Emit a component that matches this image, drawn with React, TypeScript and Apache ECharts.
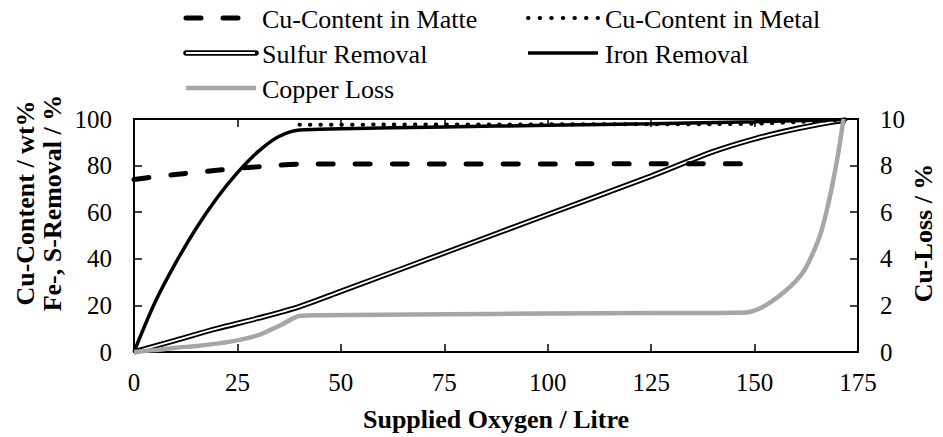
import React, { useEffect, useRef } from "react";
import * as echarts from "echarts";

const FONT = "'Liberation Serif', 'Times New Roman', Times, serif";

const xTicks = [0, 25, 50, 75, 100, 125, 150, 175];
const leftTicks = [0, 20, 40, 60, 80, 100];
const rightTicks = [0, 2, 4, 6, 8, 10];

const seriesNames = [
  "Cu-Content in Matte",
  "Cu-Content in Metal",
  "Sulfur Removal",
  "Iron Removal",
  "Copper Loss",
];

// [supplied oxygen, value]
const cuMatte = [
  [0, 74], [5, 75.2], [10, 76.2], [15, 77.1], [20, 78], [25, 78.8], [30, 79.5],
  [35, 80.2], [40, 80.6], [75, 80.7], [110, 80.75], [148, 80.8],
];
const cuMetal = [
  [40, 97.5], [60, 97.6], [100, 97.7], [140, 97.8], [150, 98], [160, 98.7],
  [170, 99.6], [172, 99.8],
];
const sulfurRemoval = [
  [0, 0], [10, 5], [20, 10], [30, 14.5], [40, 19.5], [50, 26], [75, 42.5],
  [100, 59], [125, 75.5], [140, 86], [150, 91.5], [160, 95.8], [168, 98.5], [172, 99.5],
];
const ironRemoval = [
  [0, 0], [5, 21], [10, 38], [15, 53], [20, 66], [25, 77], [30, 86], [35, 92.5],
  [40, 95.3], [50, 95.8], [75, 96.6], [100, 97.3], [125, 98], [150, 98.8], [172, 99.8],
];
const copperLoss = [
  [0, 0], [5, 0.08], [10, 0.18], [15, 0.26], [20, 0.36], [25, 0.5], [30, 0.72],
  [33, 0.95], [36, 1.2], [38, 1.4], [40, 1.55], [45, 1.58], [75, 1.62], [100, 1.65],
  [125, 1.67], [148, 1.7], [151, 1.85], [154, 2.15], [157, 2.55], [160, 3.05],
  [162, 3.5], [164, 4.2], [166, 5.1], [168, 6.5], [170, 8.3], [171.5, 10],
];

const xTitle = "Supplied Oxygen / Litre";
const leftTitle1 = "Cu-Content / wt%";
const leftTitle2 = "Fe-, S-Removal / %";
const rightTitle = "Cu-Loss / %";

export default function App() {
  const ref = useRef<HTMLDivElement>(null);
  useEffect(() => {
    document.body.style.margin = "0";
    const chart = echarts.init(ref.current!, undefined, { renderer: "svg" });
    const axisLine = { show: true, onZero: false, lineStyle: { color: "#000", width: 2 } };
    const axisTick = { show: true, inside: true, length: 8, lineStyle: { color: "#000", width: 1.5 } };
    const label = { fontSize: 25, color: "#000", fontFamily: FONT };
    const legendText = (text: string, x: number, y: number) => ({
      type: "text",
      x,
      y,
      style: { text, fill: "#000", fontSize: 26, fontFamily: FONT, textAlign: "left", textVerticalAlign: "middle" },
    });
    const option: any = {
      animation: false,
      textStyle: { fontFamily: FONT },
      grid: { left: 134, right: 85, top: 119, bottom: 85, containLabel: false },
      xAxis: [
        {
          type: "value", min: xTicks[0], max: xTicks[xTicks.length - 1], interval: 25,
          position: "bottom", axisLine, axisTick, axisLabel: { ...label, margin: 18 },
          splitLine: { show: false },
        },
        {
          type: "value", min: xTicks[0], max: xTicks[xTicks.length - 1], interval: 25,
          position: "top", axisLine, axisTick, axisLabel: { show: false },
          splitLine: { show: false },
        },
      ],
      yAxis: [
        {
          type: "value", min: leftTicks[0], max: leftTicks[leftTicks.length - 1], interval: 20,
          position: "left", axisLine, axisTick, axisLabel: { ...label, margin: 22 },
          splitLine: { show: false },
        },
        {
          type: "value", min: rightTicks[0], max: rightTicks[rightTicks.length - 1], interval: 2,
          position: "right", axisLine, axisTick, axisLabel: { ...label, margin: 22 },
          splitLine: { show: false },
        },
      ],
      series: [
        {
          name: seriesNames[2], type: "line", data: sulfurRemoval, symbol: "none", smooth: 0.3,
          lineStyle: { color: "#000", width: 5.5 }, z: 2,
        },
        {
          name: seriesNames[2] + " inner", type: "line", data: sulfurRemoval, symbol: "none", smooth: 0.3,
          lineStyle: { color: "#fff", width: 1.8 }, z: 3,
        },
        {
          name: seriesNames[0], type: "line", data: cuMatte, symbol: "none", smooth: 0.3,
          lineStyle: { color: "#000", width: 5, type: [15, 22], cap: "round" }, z: 4,
        },
        {
          name: seriesNames[1], type: "line", data: cuMetal, symbol: "none", smooth: 0.3,
          lineStyle: { color: "#000", width: 4, type: [0.5, 10], cap: "round" }, z: 4,
        },
        {
          name: seriesNames[3], type: "line", data: ironRemoval, symbol: "none", smooth: 0.3,
          lineStyle: { color: "#000", width: 3.5 }, z: 5,
        },
        {
          name: seriesNames[4], type: "line", data: copperLoss, yAxisIndex: 1, symbol: "none",
          smooth: 0.3, lineStyle: { color: "#a6a6a6", width: 4.5 }, z: 6,
        },
      ],
      graphic: [
        // legend icons
        { type: "line", shape: { x1: 186, y1: 18, x2: 256, y2: 18 }, style: { stroke: "#000", lineWidth: 5, lineDash: [15, 22], lineCap: "round" } },
        { type: "line", shape: { x1: 528, y1: 18, x2: 598, y2: 18 }, style: { stroke: "#000", lineWidth: 4, lineDash: [0.5, 11.1], lineCap: "round" } },
        { type: "line", shape: { x1: 186, y1: 53, x2: 256, y2: 53 }, style: { stroke: "#000", lineWidth: 5.5, lineCap: "round" } },
        { type: "line", shape: { x1: 186, y1: 53, x2: 255, y2: 53 }, style: { stroke: "#fff", lineWidth: 1.8 } },
        { type: "line", shape: { x1: 528, y1: 53, x2: 598, y2: 53 }, style: { stroke: "#000", lineWidth: 3.5 } },
        { type: "line", shape: { x1: 186, y1: 88, x2: 256, y2: 88 }, style: { stroke: "#a6a6a6", lineWidth: 4.5 } },
        legendText(seriesNames[0], 262, 19),
        legendText(seriesNames[1], 605, 19),
        legendText(seriesNames[2], 262, 54),
        legendText(seriesNames[3], 605, 54),
        legendText(seriesNames[4], 262, 89),
        // axis titles
        {
          type: "text", x: 496, y: 419,
          style: { text: xTitle, fill: "#000", fontSize: 26, fontWeight: "bold", fontFamily: FONT, textAlign: "center", textVerticalAlign: "middle" },
        },
        {
          type: "text", x: 25, y: 203, rotation: Math.PI / 2,
          style: { text: leftTitle1, fill: "#000", fontSize: 26, fontWeight: "bold", fontFamily: FONT, textAlign: "center", textVerticalAlign: "middle" },
        },
        {
          type: "text", x: 52, y: 203, rotation: Math.PI / 2,
          style: { text: leftTitle2, fill: "#000", fontSize: 26, fontWeight: "bold", fontFamily: FONT, textAlign: "center", textVerticalAlign: "middle" },
        },
        {
          type: "text", x: 923, y: 233, rotation: Math.PI / 2,
          style: { text: rightTitle, fill: "#000", fontSize: 26, fontWeight: "bold", fontFamily: FONT, textAlign: "center", textVerticalAlign: "middle" },
        },
      ],
    };
    chart.setOption(option);
    return () => chart.dispose();
  }, []);
  return <div ref={ref} style={{ width: 943, height: 437 }} />;
}
